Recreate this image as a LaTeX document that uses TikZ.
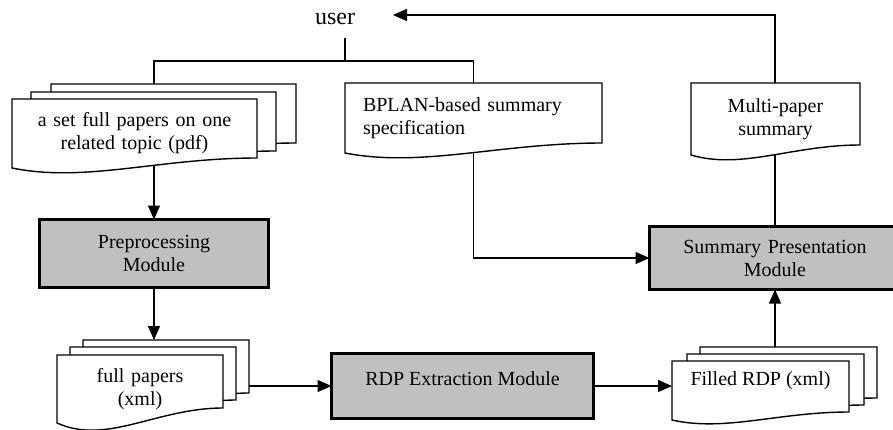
\documentclass[tikz,border=0pt]{standalone}
\usepackage{fontspec}
\setmainfont{Liberation Serif}
\usetikzlibrary{calc,arrows.meta}
\pgfdeclarelayer{bg}
\pgfdeclarelayer{mid}
\pgfsetlayers{bg,mid,main}
\newcommand\docshape[4]{%
  \draw[docline] ($(#1.north west)+(#2,#3)$) -- ($(#1.north east)+(#2,#3)$)
    -- ($(#1.south east)+(#2,#3-#4)$)
    .. controls ($(#1.south west)!0.6!(#1.south east)+(#2,#3-#4)$)
    and ($(#1.south west)!0.3!(#1.south east)+(#2,#3+1.5*#4)$)
    .. ($(#1.south west)+(#2,#3)$) -- cycle;}
\tikzset{
  txt/.style={font=\fontsize{20}{23}\selectfont, inner sep=0pt, outer sep=0pt},
  docnode/.style={txt, align=center},
  docline/.style={draw=black, line width=1.4pt, fill=white, line join=miter},
  modbox/.style={txt, align=center, draw=black, fill=gray75, line width=3.5pt},
  conn/.style={draw=black, line width=1.3pt},
  arr/.style={conn, -{Triangle[length=14pt,width=12pt]}},
}
\definecolor{gray75}{HTML}{C0C0C0}
\begin{document}
\begin{tikzpicture}[x=1pt,y=-1pt]
\useasboundingbox (0,0) rectangle (893,429);
\begin{pgfonlayer}{bg}
\fill[white] (0,0) rectangle (893,429);
\end{pgfonlayer}
\clip (0,0) rectangle (893,429);
% nodes
\node[txt, font=\fontsize{24}{28}\selectfont] (user) at (335,19) {user};
\node[docnode, minimum width=245pt, minimum height=69pt, text width=240pt] (pdf) at (134.5,133.5) {a set full papers on one\\related topic (pdf)};
\node[docnode, align=left, minimum width=257pt, minimum height=70pt, text width=221pt] (bplan) at (473.5,118) {BPLAN-based summary\\specification};
\node[docnode, minimum width=169pt, minimum height=72pt, text width=160pt] (multi) at (775.5,119) {Multi-paper\\summary};
\node[modbox, minimum width=229pt, minimum height=68pt, text width=220pt] (prep) at (154,253.5) {Preprocessing\\Module};
\node[modbox, minimum width=251pt, minimum height=63pt, text width=240pt] (summ) at (775,258) {Summary Presentation\\Module};
\node[docnode, minimum width=166pt, minimum height=68pt, text width=160pt] (fp) at (140,389) {full papers\\(xml)};
\node[modbox, minimum width=262pt, minimum height=65pt, text height=14pt, text depth=16pt] (rdp) at (462.5,386) {RDP Extraction Module};
\node[docnode, minimum width=177pt, minimum height=59pt, text height=14pt, text depth=25pt] (filled) at (760.5,390.5) {Filled RDP (xml)};
\coordinate (ujoin) at (345,61);
\coordinate (utip) at (393,15);
\coordinate (fptop) at ([yshift=15pt]fp.north);
% document shapes
\begin{pgfonlayer}{mid}
\docshape{pdf}{39}{-15}{10}
\docshape{pdf}{19}{-7}{10}
\docshape{pdf}{0}{0}{10}
\docshape{bplan}{0}{0}{10}
\docshape{multi}{0}{0}{10}
\docshape{fp}{26}{-15}{15}
\docshape{fp}{13}{-8}{15}
\docshape{fp}{0}{0}{15}
\docshape{filled}{28}{-14}{8}
\docshape{filled}{15}{-7}{8}
\docshape{filled}{0}{0}{8}
\end{pgfonlayer}
% connectors
\begin{pgfonlayer}{bg}
\draw[conn] ([yshift=-13pt]user.south -| ujoin) -- (ujoin);
\draw[conn] (ujoin) -| (prep.north |- pdf.center);
\draw[conn] (ujoin) -| (bplan.center);
\draw[arr] (pdf.center -| prep.north) -- (prep.north);
\draw[arr] (prep.south) -- (prep.south |- fptop);
\draw[arr] (fp.center |- rdp.west) -- (rdp.west);
\draw[arr] (rdp.east) -- (rdp.east -| filled.west);
\draw[arr] (bplan.center) |- (summ.west);
\draw[arr] (filled.center -| summ.south) -- (summ.south);
\draw[arr] (summ.north) -- (summ.north |- multi.center) |- (utip);
\end{pgfonlayer}
\end{tikzpicture}
\end{document}
